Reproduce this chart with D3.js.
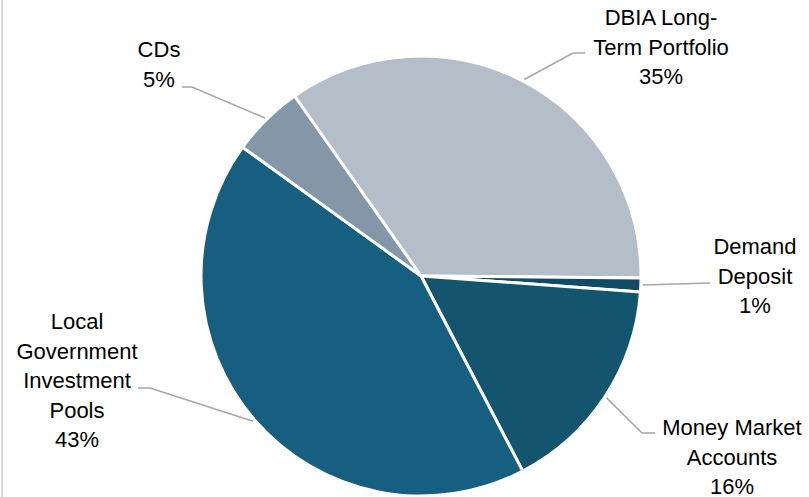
<!DOCTYPE html>
<html>
<head>
<meta charset="utf-8">
<script src="https://cdn.jsdelivr.net/npm/d3@7"></script>
<style>
  html, body { margin: 0; padding: 0; background: #fff; }
  svg { display: block; }
</style>
</head>
<body>
<div id="pie-chart"></div>
<script>
// slice order is clockwise, starting with DBIA
const categories = ["DBIA Long-Term Portfolio", "Demand Deposit", "Money Market Accounts", "Local Government Investment Pools", "CDs"];
const shares = [34.9, 1.0, 16.2, 42.6, 5.3];
const pctLabels = ["35%", "1%", "16%", "43%", "5%"];
const labelLines = [
    ["DBIA Long-", "Term Portfolio"],
    ["Demand", "Deposit"],
    ["Money Market", "Accounts"],
    ["Local", "Government", "Investment", "Pools"],
    ["CDs"]
];
const colors = ["#b4bec8", "#104a66", "#13556f", "#175f80", "#8497a8"];

const PieChart = (() => {
    const width = 809;
    const height = 497;
    const cx = 421, cy = 276, radius = 220;
    const lineHeight = 29.5;

    const svg = d3.select("#pie-chart")
        .append("svg")
        .attr("width", width)
        .attr("height", height)
        .attr("viewBox", [0, 0, width, height])
        .attr("font-family", "'Liberation Sans', Arial, sans-serif")
        .attr("font-size", 22)
        .attr("text-anchor", "middle");

    // thin frame edge on the left
    svg.append("line")
        .attr("x1", 2).attr("x2", 2)
        .attr("y1", 0).attr("y2", height)
        .attr("stroke", "#d9d9d9")
        .attr("stroke-width", 2);

    // label anchor (x center, first baseline) and leader line bends
    const labelPos = [
        { x: 661, y: 25, line: [[585, 53], [573, 53]] },
        { x: 755, y: 254, line: [[710, 283]] },
        { x: 732, y: 435, line: [[655, 433], [642, 433]] },
        { x: 77, y: 329, line: [[138, 388], [150, 388]] },
        { x: 159, y: 57, line: [[182, 87], [192, 87]] }
    ];

    function render() {
        const startDeg = -35.1;
        const pie = d3.pie()
            .sort(null)
            .value(d => d)
            .startAngle(startDeg * Math.PI / 180)
            .endAngle((startDeg + 360) * Math.PI / 180);
        const arcs = pie(shares);
        const arc = d3.arc().innerRadius(0).outerRadius(radius);

        const g = svg.append("g").attr("transform", `translate(${cx},${cy})`);
        g.selectAll("path")
            .data(arcs)
            .join("path")
            .attr("d", arc)
            .attr("fill", (d, i) => colors[i])
            .attr("stroke", "#fff")
            .attr("stroke-width", 3)
            .attr("stroke-linejoin", "round");

        // leader lines from slice edge to label
        svg.selectAll("polyline.leader")
            .data(arcs)
            .join("polyline")
            .attr("class", "leader")
            .attr("fill", "none")
            .attr("stroke", "#a6a6a6")
            .attr("stroke-width", 1.5)
            .attr("points", (d, i) => {
                const mid = (d.startAngle + d.endAngle) / 2;
                const p = [cx + (radius + 2) * Math.sin(mid), cy - (radius + 2) * Math.cos(mid)];
                const pts = labelPos[i].line.slice().reverse();
                return [p, ...pts].map(q => q.join(",")).join(" ");
            });

        const labels = svg.selectAll("text.label")
            .data(arcs)
            .join("text")
            .attr("class", "label")
            .attr("fill", "#000");

        labels.each(function (d, i) {
            const t = d3.select(this);
            const lines = labelLines[i].concat([pctLabels[i]]);
            lines.forEach((s, k) => {
                t.append("tspan")
                    .attr("x", labelPos[i].x)
                    .attr("y", labelPos[i].y + k * lineHeight)
                    .text(s);
            });
        });
    }

    return { render };
})();

PieChart.render();
</script>
</body>
</html>
